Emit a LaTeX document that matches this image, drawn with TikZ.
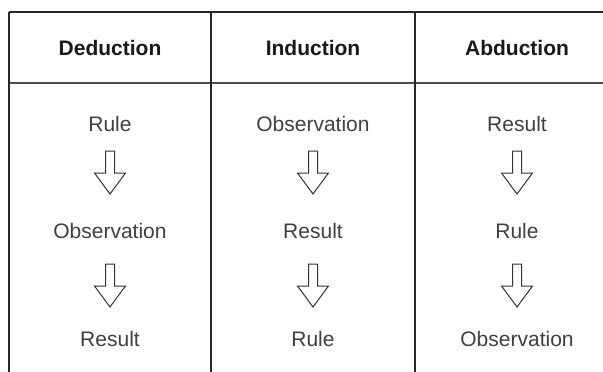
\documentclass[tikz,border=0pt]{standalone}
\usepackage{fontspec}
\setmainfont{Liberation Sans}
\begin{document}
\begin{tikzpicture}[x=1pt,y=-1pt,
  grid/.style={draw=black!85,line width=1.3pt},
  hdr/.style={font=\fontsize{21}{25}\selectfont\bfseries,text=black!90,inner sep=0pt},
  cell/.style={font=\fontsize{21}{25}\selectfont,text=black!75,inner sep=0pt},
  blockarrow/.style={draw=black!80,line width=1pt,fill=white,line join=miter}]
\useasboundingbox (0,0) rectangle (603,372);
\begin{scope}
\clip (0,0) rectangle (603,372);
% table lines
\draw[grid] (9,12) -- (640,12);
\draw[grid,draw=black!70,line width=1.6pt] (9,83) -- (640,83);
\draw[grid] (9,12) -- (9,380);
\draw[grid] (211,12) -- (211,380);
\draw[grid] (415,12) -- (415,380);
\end{scope}
% headers
\node[hdr] (h1) at (110,47.5) {Deduction};
\node[hdr] (h2) at (313,47.5) {Induction};
\node[hdr] (h3) at (517,47.5) {Abduction};
% column 1
\node[cell] (a1) at (110,124) {Rule};
\node[cell] (a2) at (110,231) {Observation};
\node[cell] (a3) at (110,339) {Result};
% column 2
\node[cell] (b1) at (313,124) {Observation};
\node[cell] (b2) at (313,231) {Result};
\node[cell] (b3) at (313,339) {Rule};
% column 3
\node[cell] (c1) at (517,124) {Result};
\node[cell] (c2) at (517,231) {Rule};
\node[cell] (c3) at (517,339) {Observation};
% arrow anchors
\coordinate (ma1) at (a1 |- 0,172.5);
\coordinate (ma2) at (a1 |- 0,285.5);
\coordinate (mb1) at (b1 |- 0,172.5);
\coordinate (mb2) at (b1 |- 0,285.5);
\coordinate (mc1) at (c1 |- 0,172.5);
\coordinate (mc2) at (c1 |- 0,285.5);
\foreach \m in {ma1,ma2,mb1,mb2,mc1,mc2}{
  \draw[blockarrow] ([shift={(-4.5,-21.5)}]\m) -- ([shift={(4.5,-21.5)}]\m)
    -- ([shift={(4.5,0.5)}]\m) -- ([shift={(15.5,0.5)}]\m)
    -- ([shift={(0,21.5)}]\m) -- ([shift={(-15.5,0.5)}]\m)
    -- ([shift={(-4.5,0.5)}]\m) -- cycle;
}
\end{tikzpicture}
\end{document}
